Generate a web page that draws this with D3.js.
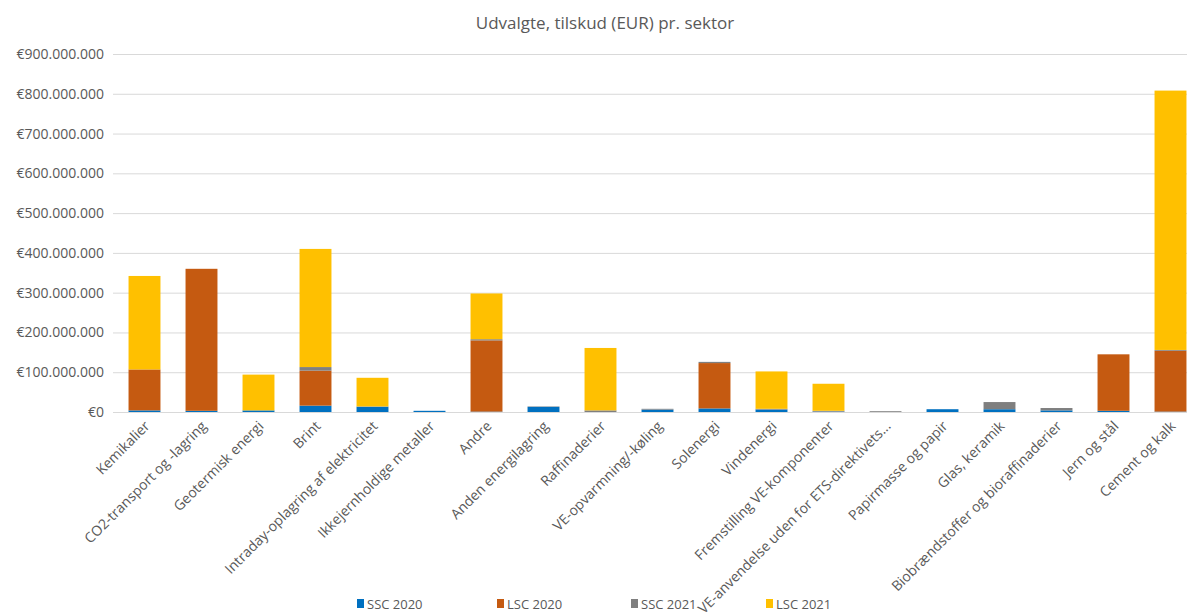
<!DOCTYPE html>
<html><head><meta charset="utf-8">
<script src="https://cdn.jsdelivr.net/npm/d3@7"></script>
<style>
body{margin:0;background:#fff;overflow:hidden}
text{font-family:"Open Sans","Liberation Sans",sans-serif;fill:#595959}
</style></head><body>
<svg id="c" width="1187" height="613"></svg>
<script>
const categories = ["Kemikalier","CO2-transport og -lagring","Geotermisk energi","Brint","Intraday-oplagring af elektricitet","Ikkejernholdige metaller","Andre","Anden energilagring","Raffinaderier","VE-opvarmning/-køling","Solenergi","Vindenergi","Fremstilling VE-komponenter","VE-anvendelse uden for ETS-direktivets...","Papirmasse og papir","Glas, keramik","Biobrændstoffer og bioraffinaderier","Jern og stål","Cement og kalk"];
const seriesNames = ["SSC 2020","LSC 2020","SSC 2021","LSC 2021"];
const ssc2020 = [4e6,3e6,4e6,16e6,13e6,3e6,1e6,13e6,0,6e6,9e6,6e6,1e6,0,7e6,7e6,4e6,3e6,1e6];
const lsc2020 = [103e6,357e6,0,88e6,0,0,179e6,0,0,0,114e6,0,0,0,0,0,0,142e6,153e6];
const ssc2021 = [0,0,0,9e6,1e6,0,3e6,1e6,4e6,2e6,3e6,2e6,2e6,2e6,0,18e6,6e6,0,2e6];
const lsc2021 = [235e6,0,90e6,297e6,72e6,0,115e6,0,157e6,0,0,94e6,68e6,0,0,0,0,0,652e6];
const yTicks = [0,1e8,2e8,3e8,4e8,5e8,6e8,7e8,8e8,9e8];
const colors = ["#0070C0","#C55A11","#7F7F7F","#FFC000"];

const svg = d3.select("#c");
const rows = categories.map((c,i)=>({cat:c,s0:ssc2020[i],s1:lsc2020[i],s2:ssc2021[i],s3:lsc2021[i]}));
const keys = ["s0","s1","s2","s3"];
const stack = d3.stack().keys(keys)(rows);

const x = d3.scaleBand().domain(categories).range([116,1199]).paddingInner(0.44).paddingOuter(0.22);
const y = d3.scaleLinear().domain([0,9e8]).range([412,54]);

const fmt = v => "€" + d3.format(",")(v).replace(/,/g,".");

// gridlines
svg.append("g").selectAll("line").data(yTicks).join("line")
  .attr("x1",113).attr("x2",1187).attr("y1",d=>y(d)+0.5).attr("y2",d=>y(d)+0.5)
  .attr("stroke","#d9d9d9").attr("stroke-width",1);

// y labels
const yAxis = d3.axisLeft(y).tickValues(yTicks).tickFormat(fmt).tickSize(0).tickPadding(0);
const ya = svg.append("g").attr("transform","translate(104,0)").call(yAxis);
ya.select(".domain").remove();
ya.selectAll("text").attr("font-size",14).style("fill","#595959").attr("font-family",null);

// bars
svg.append("g").selectAll("g").data(stack).join("g").attr("fill",(d,i)=>colors[i])
  .selectAll("rect").data(d=>d).join("rect")
  .attr("x",d=>x(d.data.cat)).attr("width",x.bandwidth())
  .attr("y",d=>y(d[1])).attr("height",d=>Math.max(0,y(d[0])-y(d[1])));

// x axis
const xAxis = d3.axisBottom(x).tickSize(0).tickPadding(0);
const xa = svg.append("g").attr("transform","translate(0,412)").call(xAxis);
xa.select(".domain").attr("stroke","#d9d9d9").attr("d","M113,0.5H1187");
xa.selectAll("text").attr("font-size",14).style("fill","#595959").attr("font-family",null)
  .attr("text-anchor","end").attr("dy",null).attr("y",0)
  .attr("transform","translate(6,15) rotate(-45)");

// title
svg.append("text").attr("x",605).attr("y",29).attr("text-anchor","middle")
  .attr("font-size",17).text("Udvalgte, tilskud (EUR) pr. sektor");

// legend
const lx = [357,497,631,766];
const lg = svg.append("g").selectAll("g").data(seriesNames).join("g")
  .attr("transform",(d,i)=>`translate(${lx[i]},0)`);
lg.append("rect").attr("x",0).attr("y",599).attr("width",7).attr("height",9).attr("fill",(d,i)=>colors[i]);
lg.append("text").attr("x",10).attr("y",609).attr("font-size",13).text(d=>d);
</script>
</body></html>
